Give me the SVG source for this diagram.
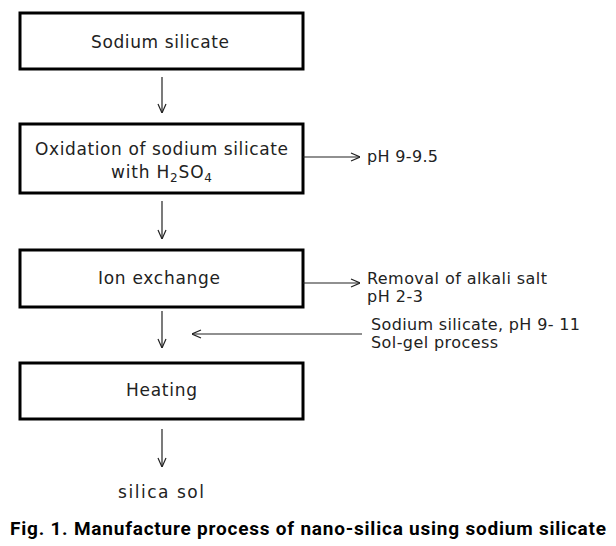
<svg xmlns="http://www.w3.org/2000/svg" width="616" height="546" viewBox="0 0 616 546">
<defs>
<marker id="ah" viewBox="0 0 10 10" refX="10" refY="5" markerWidth="10" markerHeight="10" markerUnits="userSpaceOnUse" orient="auto">
<path d="M1,1 L10,5 L1,9" fill="none" stroke="#222" stroke-width="1.2"/>
</marker>
<style>
.box{fill:#fff;stroke:#000;stroke-width:3}
.t{font-family:"DejaVu Sans","Open Sans",sans-serif;font-size:17px;fill:#222}
.s{font-size:16px}
.c{text-anchor:middle}
.ln{stroke:#222;stroke-width:1.2;fill:none;marker-end:url(#ah)}
.cap{font-family:Roboto,"Liberation Sans",sans-serif;font-size:19px;font-weight:bold;fill:#000}
</style>
</defs>
<rect width="616" height="546" fill="#fff"/>
<g id="n1"><rect class="box" x="20" y="13" width="283" height="56"/><text class="t c" x="160" y="48" textLength="138">Sodium silicate</text></g>
<g id="n2"><rect class="box" x="20" y="124" width="283" height="69"/><text class="t c" x="161.5" y="155" textLength="253">Oxidation of sodium silicate</text><text class="t c" x="161.5" y="178" textLength="101">with H<tspan font-size="12" dy="4">2</tspan><tspan dy="-4">SO</tspan><tspan font-size="12" dy="4">4</tspan></text></g>
<g id="n3"><rect class="box" x="20" y="250" width="283" height="57"/><text class="t c" x="159" y="284" textLength="122">Ion exchange</text></g>
<g id="n4"><rect class="box" x="20" y="363" width="283" height="56"/><text class="t c" x="161.5" y="396" textLength="71">Heating</text></g>
<g id="n5"><text class="t c" x="161" y="498" textLength="86">silica sol</text></g>
<g id="side">
<text class="t s" x="367" y="162" textLength="71">pH 9-9.5</text>
<text class="t s" x="367" y="284" textLength="180">Removal of alkali salt</text>
<text class="t s" x="367" y="302" textLength="56">pH 2-3</text>
<text class="t s" x="371" y="330" textLength="209">Sodium silicate, pH 9- 11</text>
<text class="t s" x="371" y="348" textLength="127">Sol-gel process</text>
</g>
<g id="connectors">
<line class="ln" x1="162" y1="77" x2="162" y2="113"/>
<line class="ln" x1="162" y1="201" x2="162" y2="239"/>
<line class="ln" x1="162" y1="311" x2="162" y2="348"/>
<line class="ln" x1="162" y1="429" x2="162" y2="467"/>
<line class="ln" x1="303" y1="157" x2="360" y2="157"/>
<line class="ln" x1="303" y1="283" x2="360" y2="283"/>
<line class="ln" x1="362" y1="334" x2="192" y2="334"/>
</g>
<text class="cap" x="10" y="535" textLength="596" lengthAdjust="spacing">Fig. 1. Manufacture process of nano-silica using sodium silicate</text>
</svg>
